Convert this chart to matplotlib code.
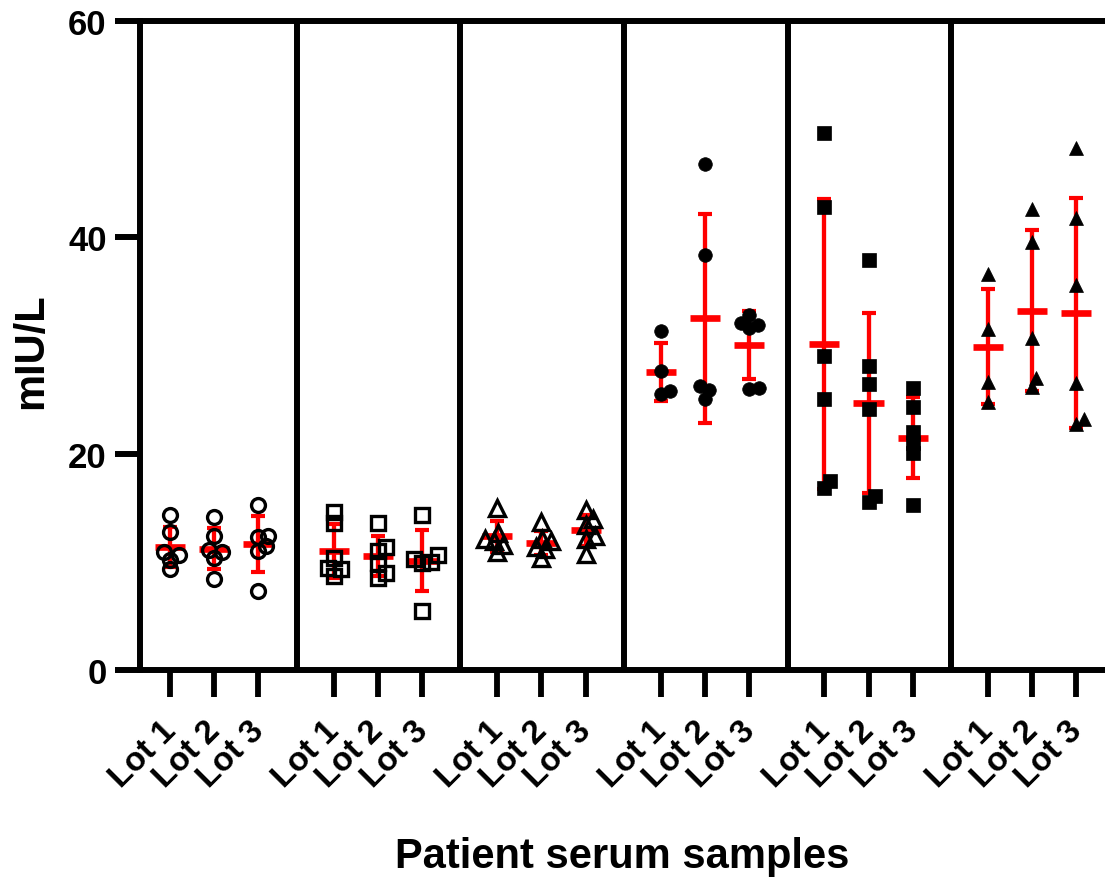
import matplotlib
matplotlib.use("Agg")
import matplotlib.pyplot as plt
from matplotlib.transforms import ScaledTranslation
import numpy as np

plt.rcParams['font.family'] = ['Liberation Sans', 'DejaVu Sans']
plt.rcParams['font.weight'] = 'bold'

# ---- data (mIU/L), one list per lot, one block per patient serum sample ----
lots = ["Lot 1", "Lot 2", "Lot 3"]

sample1 = [[14.3, 12.8, 10.9, 10.6, 10.2, 9.3],
           [14.1, 12.4, 11.1, 10.9, 10.4, 8.4],
           [15.3, 12.4, 12.3, 11.5, 11.0, 7.3]]
sample2 = [[14.6, 13.6, 10.4, 9.4, 9.3, 8.7],
           [13.6, 11.4, 11.0, 9.9, 9.0, 8.5],
           [14.3, 10.6, 10.3, 10.0, 9.9, 5.5]]
sample3 = [[15.0, 12.7, 12.1, 11.9, 11.6, 10.9],
           [13.7, 12.1, 11.9, 11.4, 11.2, 10.4],
           [14.8, 14.0, 13.4, 12.4, 12.1, 10.7]]
sample4 = [[31.3, 27.6, 25.8, 25.5],
           [46.8, 38.4, 26.3, 25.9, 25.1],
           [32.8, 32.1, 31.9, 31.6, 26.1, 26.0]]
sample5 = [[49.6, 42.8, 29.0, 25.1, 17.5, 16.8],
           [37.9, 28.1, 26.4, 24.1, 16.1, 15.5],
           [26.1, 24.3, 22.0, 21.0, 20.1, 15.3]]
sample6 = [[36.6, 31.5, 26.6, 24.8],
           [42.6, 39.6, 30.7, 27.0, 26.2],
           [48.3, 41.8, 35.6, 26.5, 23.2, 22.7]]

samples = [sample1, sample2, sample3, sample4, sample5, sample6]

# marker style per sample: (marker, size, filled)
styles = [('o', 10.0, False), ('s', 9.6, False), ('^', 11.0, False),
          ('o', 9.8, True), ('s', 10.0, True), ('^', 10.2, True)]

GROUP_STEP = 3.7
XLIM = (-0.68, 21.15)

fig = plt.figure(figsize=(11.05, 8.79), dpi=100)
ax = fig.add_axes([140 / 1105, 208 / 879, 965 / 1105, 649 / 879])
ax.set_xlim(*XLIM)
ax.set_ylim(0, 60)

bb = ax.get_window_extent()
px_x = bb.width / (XLIM[1] - XLIM[0])
px_y = bb.height / 60.0


def swarm(vals, diam=9.5):
    """simple beeswarm: x offsets (data units) so markers don't pile up"""
    vals = np.asarray(vals, float)
    order = np.argsort(vals)
    placed = []
    offs = np.zeros(len(vals))
    for i in order:
        y = vals[i] * px_y
        cands = [0.0]
        for (px, py) in placed:
            dy = abs(y - py)
            if dy < diam:
                dx = np.sqrt(diam ** 2 - dy ** 2)
                cands += [px + dx, px - dx]
        ok = [c for c in cands
              if all((c - px) ** 2 + (y - py) ** 2 >= diam ** 2 - 1e-6 for px, py in placed)]
        best = min(ok, key=lambda c: (round(abs(c), 6), -c))
        placed.append((best, y))
        offs[i] = best / px_x
    return offs


xticks, xlabels = [], []
for g, sample in enumerate(samples):
    marker, ms, filled = styles[g]
    for l, vals in enumerate(sample):
        x0 = g * GROUP_STEP + l
        xticks.append(x0)
        xlabels.append(lots[l])
        vals = np.array(vals)
        m = vals.mean()
        sd = vals.std(ddof=1)
        ax.errorbar(x0, m, yerr=sd, fmt='none', ecolor='#ff0000', elinewidth=3.1,
                    capsize=5.2, capthick=3.0, zorder=3)
        ax.hlines(m, x0 - 0.34, x0 + 0.34, color='#ff0000', lw=4.8, zorder=3)
        offs = swarm(vals)
        if filled:
            ax.plot(x0 + offs, vals, linestyle='none', marker=marker, ms=ms,
                    mfc='black', mec='black', mew=0.5, zorder=4, clip_on=False)
        else:
            ax.plot(x0 + offs, vals, linestyle='none', marker=marker, ms=ms,
                    mfc='none', mec='black', mew=2.4, zorder=4, clip_on=False)

# panel dividers
for g in range(len(samples) - 1):
    ax.axvline(g * GROUP_STEP + 2.87, color='black', lw=4.3, zorder=2)

for side in ['left', 'top', 'bottom']:
    ax.spines[side].set_linewidth(4.3)
ax.spines['right'].set_visible(False)

ax.set_yticks([0, 20, 40, 60])
ax.tick_params(axis='y', length=18, width=4.3, pad=6, labelsize=25)
ax.set_xticks(xticks)
ax.set_xticklabels(xlabels)
ax.tick_params(axis='x', length=19.5, width=4.2, pad=25, labelsize=24)
shift = ScaledTranslation(5 / 72, 0, fig.dpi_scale_trans)
for lbl in ax.get_xticklabels():
    lbl.set_rotation(45)
    lbl.set_ha('right')
    lbl.set_va('baseline')
    lbl.set_rotation_mode('anchor')
    lbl.set_transform(lbl.get_transform() + shift)

fig.text(622 / 1105, 11 / 879, 'Patient serum samples', ha='center', va='baseline',
         fontsize=30, fontweight='bold')
fig.text(42 / 1105, (879 - 351) / 879, 'mIU/L', rotation=90, ha='center', va='baseline',
         rotation_mode='anchor', fontsize=30, fontweight='bold')

fig.savefig('out.png', dpi=100)
